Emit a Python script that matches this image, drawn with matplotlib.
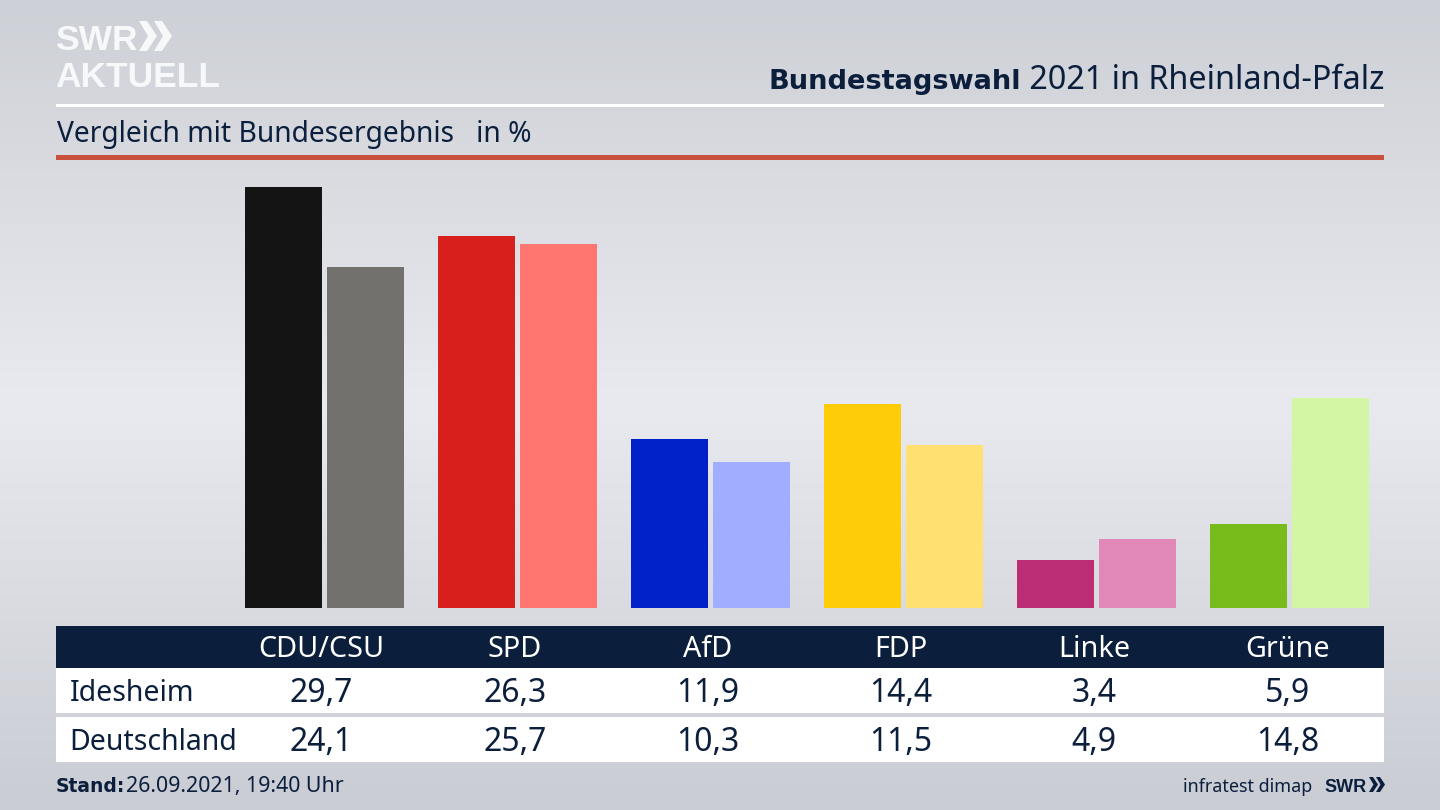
import numpy as np
import matplotlib
matplotlib.use('Agg')
import matplotlib.pyplot as plt
from matplotlib.patches import Rectangle, Polygon
from matplotlib.colors import LinearSegmentedColormap

parties = ['CDU/CSU', 'SPD', 'AfD', 'FDP', 'Linke', 'Grüne']
idesheim = [29.7, 26.3, 11.9, 14.4, 3.4, 5.9]
deutschland = [24.1, 25.7, 10.3, 11.5, 4.9, 14.8]
colors_ide = ['#141414', '#d81f1c', '#0021c8', '#ffcc0a', '#bb2d75', '#78bc1c']
colors_de = ['#72716e', '#ff7570', '#a0aeff', '#ffe070', '#e088b8', '#d3f6a5']

NAVY = '#0b1e3c'
FONT = 'Noto Sans'
BOLD = 'DejaVu Sans'
LOGO = 'Liberation Sans'
plt.rcParams['font.family'] = [FONT, 'DejaVu Sans']

fig = plt.figure(figsize=(14.4, 8.1), dpi=100)

# hintergrund und alles ausser balken in pixelkoordinaten
bg = fig.add_axes([0, 0, 1, 1])
bg.set_xlim(0, 1440)
bg.set_ylim(810, 0)
bg.axis('off')
cmap = LinearSegmentedColormap.from_list('bg', ['#cdd0d6', '#e9eaef', '#c9ccd3'])
grad = np.linspace(0, 1, 256).reshape(-1, 1)
bg.imshow(grad, cmap=cmap, extent=(0, 1440, 810, 0), aspect='auto')

# logo
bg.text(55, 50, 'SWR', color='#f7f8f9', fontsize=25.5, fontweight='bold', family=LOGO, va='baseline')
for dx in [0, 15]:
    bg.add_patch(Polygon([[139+dx, 21], [147+dx, 21], [157+dx, 36], [147+dx, 51], [139+dx, 51], [148+dx, 36]],
                         color='#f7f8f9', lw=0))
bg.text(55, 87, 'AKTUELL', color='#f7f8f9', fontsize=25.5, fontweight='bold', family=LOGO, va='baseline')

# titel
t2 = bg.text(1384, 89, ' 2021 in Rheinland-Pfalz', color=NAVY, fontsize=23.35, ha='right', va='baseline')
fig.canvas.draw()
x_left = bg.transData.inverted().transform(t2.get_window_extent())[0][0]
bg.text(x_left, 89, 'Bundestagswahl', color=NAVY, fontsize=19.6, fontweight='bold', family=BOLD, ha='right', va='baseline')

bg.add_patch(Rectangle((56, 104), 1328, 3, color='white', lw=0))
bg.text(57, 142, 'Vergleich mit Bundesergebnis   in %', color=NAVY, fontsize=20.3, va='baseline')
bg.add_patch(Rectangle((56, 155), 1328, 5, color='#c8503c', lw=0))

# balken
ax = fig.add_axes([56/1440, (810-608)/810, 1328/1440, 448/810])
ax.patch.set_alpha(0)
ax.axis('off')
step = 193.0
ax.set_xlim((56-324.5)/step, (1384-324.5)/step)
ax.set_ylim(0, 448/14.16)
x = np.arange(len(parties))
w = 77/step
off = 41/step
ax.bar(x-off, idesheim, w, color=colors_ide)
ax.bar(x+off, deutschland, w, color=colors_de)

# tabelle
bg.add_patch(Rectangle((56, 626), 1328, 42, color=NAVY, lw=0))
bg.add_patch(Rectangle((56, 668), 1328, 45, color='white', lw=0))
bg.add_patch(Rectangle((56, 717), 1328, 45, color='white', lw=0))
bg.text(70, 701, 'Idesheim', color=NAVY, fontsize=20.5, va='baseline')
bg.text(69.5, 750, 'Deutschland', color=NAVY, fontsize=20.5, va='baseline')
for i, p in enumerate(parties):
    cx = 321.5 + i*193.2
    bg.text(cx, 657, p, color='white', fontsize=20.7, ha='center', va='baseline')
    bg.text(cx, 702, str(idesheim[i]).replace('.', ','), color=NAVY, fontsize=23, ha='center', va='baseline')
    bg.text(cx, 751, str(deutschland[i]).replace('.', ','), color=NAVY, fontsize=23, ha='center', va='baseline')

# fusszeile
s = bg.text(56, 792, 'Stand:', color=NAVY, fontsize=13.5, fontweight='bold', family=BOLD, va='baseline')
bg.text(126, 792, '26.09.2021, 19:40 Uhr', color=NAVY, fontsize=15.4, va='baseline')
bg.text(1312, 792, 'infratest dimap', color=NAVY, fontsize=12.9, ha='right', va='baseline')
bg.text(1324, 792, 'SWR', color=NAVY, fontsize=13, fontweight='bold', family=LOGO, va='baseline')
for dx in [0, 7]:
    bg.add_patch(Polygon([[1369+dx, 777], [1373+dx, 777], [1378+dx, 784.5], [1373+dx, 792], [1369+dx, 792], [1373.5+dx, 784.5]],
                         color=NAVY, lw=0))

fig.savefig('out.png', dpi=100)
